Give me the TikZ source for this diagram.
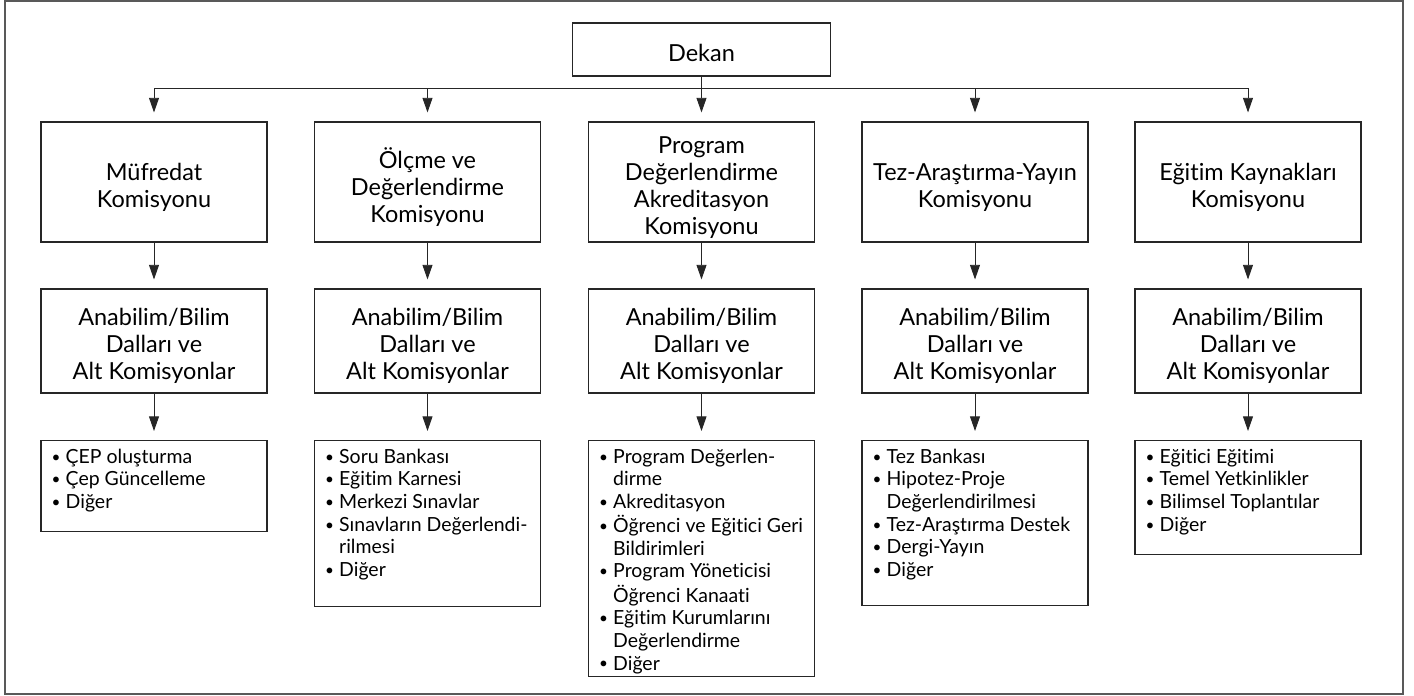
\documentclass[tikz,border=0pt]{standalone}
\usepackage{fontspec}
\setmainfont{Lato}[Ligatures=NoCommon]
\usetikzlibrary{arrows.meta}
\newcommand\bul{\makebox[10.5pt][l]{\raisebox{0.8pt}{\fontsize{11.5}{11.5}\selectfont\textbullet}}}
\newcommand\cont{\hspace*{10.5pt}}
\begin{document}
\begin{tikzpicture}[x=0.75pt,y=-0.75pt,
  frame/.style={draw=black!85,line width=0.8pt,inner sep=0pt},
  topbox/.style={frame,minimum width=169.5pt,minimum height=90pt},
  midbox/.style={frame,minimum width=169.5pt,minimum height=78pt},
  listbox/.style={frame,minimum width=169.5pt,anchor=north},
  lab/.style={inner sep=0pt,align=center,yshift=-4pt,
    font=\fontsize{17.6}{20.25}\selectfont},
  listtext/.style={anchor=north west,inner sep=0pt,align=left,
    font=\fontsize{14.6}{17}\selectfont},
  conn/.style={draw=black!85,line width=0.7pt},
  arr/.style={conn,-{Triangle[length=11pt,width=7.5pt]},shorten >=6.75pt}
]
\useasboundingbox (0,0) rectangle (1414,696);
\draw[black!65,line width=0.8pt] (5,1) rectangle (1403,694);

\node[frame,minimum width=193.5pt,minimum height=39.75pt] (dekan) at (701.5,49.5) {};
\node[lab,yshift=1.5pt] (tdekan) at (dekan.center) {Dekan};

\coordinate (j1) at (154,88);
\coordinate (j2) at (427.5,88);
\coordinate (j3) at (701.5,88);
\coordinate (j4) at (975,88);
\coordinate (j5) at (1248,88);

\node[topbox] (k1) at (154,182) {};
\node[topbox] (k2) at (427.5,182) {};
\node[topbox] (k3) at (701.5,182) {};
\node[topbox] (k4) at (975,182) {};
\node[topbox] (k5) at (1248,182) {};
\node[lab] (tk1) at (k1.center) {Müfredat\\Komisyonu};
\node[lab] (tk2) at (k2.center) {Ölçme ve\\Değerlendirme\\Komisyonu};
\node[lab] (tk3) at (k3.center) {Program\\Değerlendirme\\Akreditasyon\\Komisyonu};
\node[lab] (tk4) at (k4.center) {Tez-Araştırma-Yayın\\Komisyonu};
\node[lab] (tk5) at (k5.center) {Eğitim Kaynakları\\Komisyonu};

\foreach \i/\x in {1/154,2/427.5,3/701.5,4/975,5/1248}{
  \node[midbox] (a\i) at (\x,341) {};
  \node[lab] (ta\i) at (a\i.center) {Anabilim/Bilim\\Dalları ve\\Alt Komisyonlar};
}

\node[listbox,minimum height=68.25pt] (l1) at (154,440) {};
\node[listbox,minimum height=124.5pt] (l2) at (427.5,440) {};
\node[listbox,minimum height=177pt] (l3) at (701.5,440) {};
\node[listbox,minimum height=123.75pt] (l4) at (975,440) {};
\node[listbox,minimum height=85.5pt] (l5) at (1248,440) {};

\node[listtext] (t1) at ([shift={(11,7)}]l1.north west) {\begin{tabular}{@{}l@{}}
\bul ÇEP oluşturma\\
\bul Çep Güncelleme\\
\bul Diğer
\end{tabular}};
\node[listtext] (t2) at ([shift={(11,7)}]l2.north west) {\begin{tabular}{@{}l@{}}
\bul Soru Bankası\\
\bul Eğitim Karnesi\\
\bul Merkezi Sınavlar\\
\bul Sınavların Değerlendi-\\
\cont rilmesi\\
\bul Diğer
\end{tabular}};
\node[listtext] (t3) at ([shift={(11,7)}]l3.north west) {\begin{tabular}{@{}l@{}}
\bul Program Değerlen-\\
\cont dirme\\
\bul Akreditasyon\\
\bul Öğrenci ve Eğitici Geri\\
\cont Bildirimleri\\
\bul Program Yöneticisi\\
\cont Öğrenci Kanaati\\
\bul Eğitim Kurumlarını\\
\cont Değerlendirme\\
\bul Diğer
\end{tabular}};
\node[listtext] (t4) at ([shift={(11,7)}]l4.north west) {\begin{tabular}{@{}l@{}}
\bul Tez Bankası\\
\bul Hipotez-Proje\\
\cont Değerlendirilmesi\\
\bul Tez-Araştırma Destek\\
\bul Dergi-Yayın\\
\bul Diğer
\end{tabular}};
\node[listtext] (t5) at ([shift={(11,7)}]l5.north west) {\begin{tabular}{@{}l@{}}
\bul Eğitici Eğitimi\\
\bul Temel Yetkinlikler\\
\bul Bilimsel Toplantılar\\
\bul Diğer
\end{tabular}};

\draw[conn] (dekan.south) -- (j3);
\draw[conn] (j1) -- (j5);
\foreach \i in {1,...,5}{
  \draw[arr] (j\i) -- (k\i.north);
  \draw[arr] (k\i.south) -- (a\i.north);
  \draw[arr] (a\i.south) -- (l\i.north);
}
\end{tikzpicture}
\end{document}
